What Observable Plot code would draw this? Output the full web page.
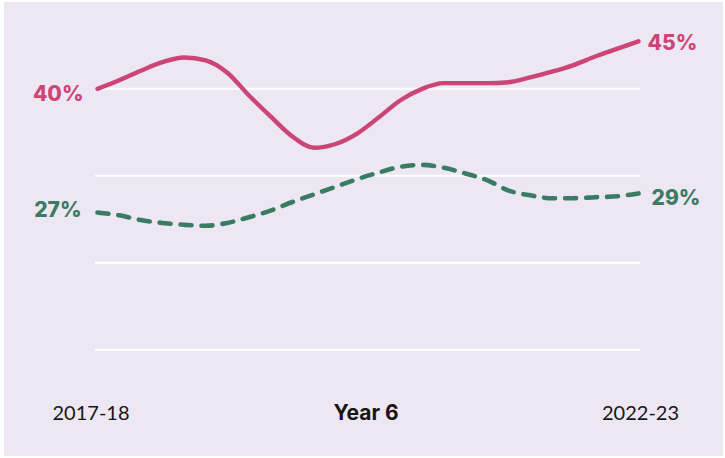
<!DOCTYPE html>
<html>
<head>
<meta charset="utf-8">
<script src="https://cdn.jsdelivr.net/npm/d3@7"></script>
<script src="https://cdn.jsdelivr.net/npm/@observablehq/plot@0.6"></script>
<style>
  html, body { margin: 0; padding: 0; background: #ffffff; }
  #chart { position: absolute; left: 4px; top: 2px; }
</style>
</head>
<body>
<div id="chart"></div>
<script>
// Share of Year 6 pupils, 2017-18 to 2022-23 (percent)
const solidSeries = [40, 40.9, 41.9, 42.8, 43.3, 43.0, 41.7, 39.3, 37.1, 35.0, 33.8, 34.2, 35.3,
                     37.0, 38.8, 40.0, 40.6, 40.6, 40.6, 40.7, 41.2, 41.8, 42.5, 43.4, 44.2, 45];
const dashedSeries = [27, 26.7, 26.2, 25.9, 25.7, 25.6, 25.9, 26.5, 27.2, 28.1, 28.9, 29.7, 30.5,
                      31.2, 31.8, 32.0, 31.7, 31.1, 30.4, 29.3, 28.8, 28.5, 28.5, 28.6, 28.7, 29];
const periodIndex = solidSeries.map((_, i) => i);

// first and last period labels and the group label
const tickPositions = [0, solidSeries.length - 1];
const tickLabels = ["2017-18", "2022-23"];
const groupLabel = "Year 6";

// horizontal guide levels
const gridLevels = [40, 30.85, 21.7, 12.55];

const pink = "#CB4677";
const green = "#3A7C62";
const ink = "#161616";
const labelFont = "Inter, 'DejaVu Sans', sans-serif";

const rows = periodIndex.map(i => ({period: i, solid: solidSeries[i], dashed: dashedSeries[i]}));
const first = rows[0];
const last = rows[rows.length - 1];

const valueLabel = { fontSize: 21, fontWeight: 800, fontFamily: labelFont };

const chart = Plot.plot({
  width: 719,
  height: 454,
  marginLeft: 91,
  marginRight: 83,
  marginTop: 30,
  marginBottom: 40,
  style: { background: "#EDE6F3", fontFamily: "Lato, 'Open Sans', sans-serif", overflow: "visible" },
  x: { domain: [0, solidSeries.length - 1], inset: 2, axis: null },
  y: { domain: [10, 45], range: [371.6, 38.8], axis: null },
  marks: [
    Plot.ruleY(gridLevels, { stroke: "#ffffff", strokeWidth: 2 }),
    Plot.line(rows, {
      x: "period", y: "solid", stroke: pink, strokeWidth: 4.4,
      curve: "monotone-x", strokeLinecap: "round", strokeLinejoin: "round"
    }),
    Plot.line(rows, {
      x: "period", y: "dashed", stroke: green, strokeWidth: 4.6,
      strokeDasharray: "11,10", strokeLinecap: "round", curve: "monotone-x"
    }),
    // end-point value labels
    Plot.text([first], {
      x: "period", y: "solid", text: d => `${d.solid}%`, textAnchor: "end",
      dx: -14, dy: 5, fill: pink, ...valueLabel
    }),
    Plot.text([first], {
      x: "period", y: "dashed", text: d => `${d.dashed}%`, textAnchor: "end",
      dx: -16, dy: -2.5, fill: green, ...valueLabel
    }),
    Plot.text([last], {
      x: "period", y: "solid", text: d => `${d.solid}%`, textAnchor: "start",
      dx: 9, dy: 1.7, fill: pink, ...valueLabel
    }),
    Plot.text([last], {
      x: "period", y: "dashed", text: d => `${d.dashed}%`, textAnchor: "start",
      dx: 13, dy: 4.6, fill: green, ...valueLabel
    }),
    // period labels along the bottom
    Plot.text([tickPositions[0]], {
      x: d => d, text: () => tickLabels[0], frameAnchor: "bottom",
      dx: -6.5, dy: 3.5, fill: ink, fontSize: 20
    }),
    Plot.text([tickPositions[1]], {
      x: d => d, text: () => tickLabels[1], frameAnchor: "bottom",
      dx: 2, dy: 3.5, fill: ink, fontSize: 20
    }),
    Plot.text([groupLabel], {
      x: () => (tickPositions[0] + tickPositions[1]) / 2, text: d => d, frameAnchor: "bottom",
      dx: -2, dy: 3.5, fill: ink, fontSize: 21, fontWeight: "bold", fontFamily: labelFont
    })
  ]
});

document.getElementById("chart").appendChild(chart);
</script>
</body>
</html>
